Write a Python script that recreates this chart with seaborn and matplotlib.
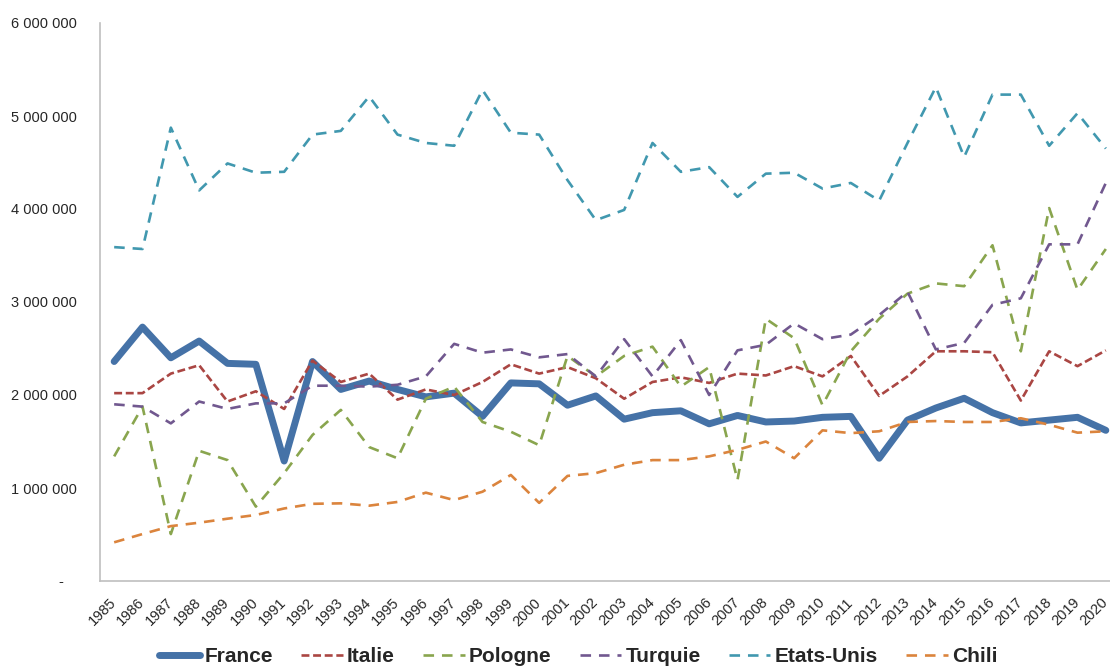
import matplotlib
matplotlib.use('Agg')
import matplotlib.pyplot as plt
from matplotlib import font_manager
from matplotlib.ticker import FuncFormatter, FixedLocator
import numpy as np
import pandas as pd
import seaborn as sns

# ── Data (millions) ───────────────────────────────────────────────────────────
years = [str(y) for y in range(1985, 2021)]

france = [2.36, 2.73, 2.40, 2.58, 2.34, 2.33, 1.29, 2.36, 2.06, 2.15, 2.06, 1.98,
          2.02, 1.77, 2.13, 2.12, 1.89, 1.99, 1.74, 1.81, 1.83, 1.69, 1.78, 1.71,
          1.72, 1.76, 1.77, 1.32, 1.73, 1.86, 1.965, 1.81, 1.70, 1.73, 1.76, 1.62]
italie = [2.02, 2.02, 2.23, 2.32, 1.93, 2.04, 1.85, 2.37, 2.14, 2.23, 1.95, 2.06,
          2.00, 2.14, 2.33, 2.23, 2.30, 2.18, 1.96, 2.14, 2.19, 2.13, 2.23, 2.21,
          2.31, 2.20, 2.42, 1.99, 2.20, 2.47, 2.47, 2.46, 1.94, 2.47, 2.31, 2.48]
pologne = [1.34, 1.875, 0.505, 1.40, 1.30, 0.80, 1.16, 1.57, 1.84, 1.44, 1.32, 1.96,
           2.09, 1.71, 1.605, 1.46, 2.42, 2.20, 2.42, 2.52, 2.09, 2.30, 1.086, 2.82,
           2.61, 1.89, 2.47, 2.82, 3.09, 3.20, 3.17, 3.61, 2.47, 4.01, 3.13, 3.57]
turquie = [1.90, 1.875, 1.695, 1.93, 1.85, 1.91, 1.91, 2.10, 2.10, 2.09, 2.11, 2.20,
           2.55, 2.455, 2.49, 2.405, 2.44, 2.20, 2.60, 2.20, 2.59, 2.00, 2.48, 2.54,
           2.77, 2.60, 2.65, 2.86, 3.11, 2.49, 2.56, 2.97, 3.04, 3.62, 3.62, 4.28]
etats_unis = [3.59, 3.57, 4.875, 4.20, 4.49, 4.39, 4.40, 4.80, 4.84, 5.21, 4.80, 4.71,
              4.68, 5.28, 4.82, 4.80, 4.31, 3.88, 3.99, 4.71, 4.40, 4.45, 4.13, 4.38,
              4.39, 4.22, 4.28, 4.09, 4.71, 5.31, 4.56, 5.23, 5.23, 4.68, 5.03, 4.65]
chili = [0.416, 0.505, 0.59, 0.627, 0.67, 0.71, 0.78, 0.83, 0.835, 0.81, 0.85, 0.95,
         0.87, 0.96, 1.14, 0.84, 1.13, 1.16, 1.25, 1.30, 1.30, 1.34, 1.41, 1.50,
         1.32, 1.62, 1.59, 1.61, 1.71, 1.72, 1.71, 1.71, 1.75, 1.68, 1.595, 1.61]

series = [
    ('France',     france,     '#4572A7', 5.0, '-'),
    ('Italie',     italie,     '#AA4643', 1.9, (0, (3, 1.4))),
    ('Pologne',    pologne,    '#89A54E', 1.9, (0, (4, 3))),
    ('Turquie',    turquie,    '#71588F', 1.9, (0, (4, 3))),
    ('Etats-Unis', etats_unis, '#4198AF', 1.9, (0, (4, 3))),
    ('Chili',      chili,      '#DB843D', 1.9, (0, (4, 3))),
]

sns.set_style('white')
names = {f.name for f in font_manager.fontManager.ttflist}
base_font = 'Liberation Sans' if 'Liberation Sans' in names else 'DejaVu Sans'
legend_font = 'Liberation Sans Narrow' if 'Liberation Sans Narrow' in names else base_font
plt.rcParams['font.family'] = [base_font, 'DejaVu Sans']

fig = plt.figure(figsize=(11.10, 6.71), dpi=100)
# plot area runs a little past the right edge, as in the source image
ax = fig.add_axes([100 / 1110, 1 - 581 / 671, 1020 / 1110, 558 / 671])

x = np.arange(len(years))
for name, vals, color, lw, ls in series:
    df = pd.DataFrame({'x': x, 'v': np.array(vals) * 1e6})
    sns.lineplot(data=df, x='x', y='v', ax=ax, color=color, linewidth=lw,
                 linestyle=ls, label=name, legend=False)

ax.set_xlim(-0.5, len(years) - 0.5)
ax.set_ylim(0, 6e6)
ax.set_xlabel('')
ax.set_ylabel('')

# y axis
ax.set_yticks(np.arange(0, 6e6 + 1, 1e6))
ax.yaxis.set_major_formatter(FuncFormatter(
    lambda v, p: '-   ' if v == 0 else f'{int(v):,}'.replace(',', ' ')))
ax.tick_params(axis='y', which='major', length=5, width=1, color='#BFBFBF',
               labelsize=10.5, labelcolor='#262626', pad=12)

# x axis: labels at centres, tick marks between categories
ax.set_xticks(x)
ax.set_xticklabels(years, rotation=45, ha='right', va='center', rotation_mode='anchor')
ax.tick_params(axis='x', which='major', length=0, labelsize=10.5, labelcolor='#262626', pad=14)
ax.xaxis.set_minor_locator(FixedLocator(np.arange(-0.5, len(years), 1)))
ax.tick_params(axis='x', which='minor', length=5, width=1, color='#BFBFBF')

for s in ['top', 'right']:
    ax.spines[s].set_visible(False)
for s in ['left', 'bottom']:
    ax.spines[s].set_color('#BFBFBF')
    ax.spines[s].set_linewidth(1.2)

handles, labels = ax.get_legend_handles_labels()
fig.legend(handles, labels, loc='center', bbox_to_anchor=(578 / 1110, 1 - 657 / 671),
           ncol=6, frameon=False, handlelength=2.0, handletextpad=0.2,
           columnspacing=1.35, prop={'family': legend_font, 'weight': 'bold', 'size': 15})

fig.savefig('out.png', dpi=100)
